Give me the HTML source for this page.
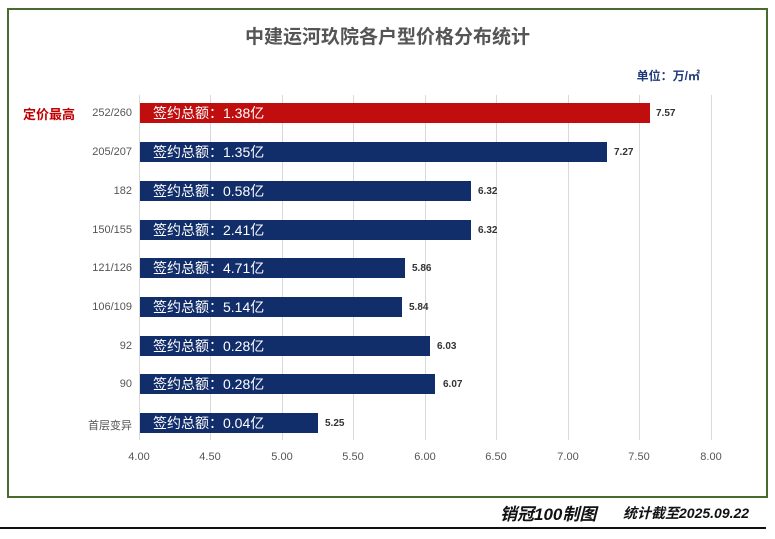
<!DOCTYPE html><html><head><meta charset="utf-8"><style>
body{margin:0;width:775px;height:539px;background:#fff;position:relative;overflow:hidden;font-family:"Liberation Sans","Noto Sans CJK SC",sans-serif}
.box{position:absolute;left:7px;top:8px;width:757px;height:486px;border:2px solid #4a6a30;box-sizing:content-box}
.t{position:absolute;white-space:nowrap}
.bar{position:absolute;left:140px;height:20px;color:#fff;font-size:14px;line-height:20px;padding-left:13px;box-sizing:border-box}
.g{position:absolute;top:95px;height:345px;width:1px;background:#d9d9d9}
.lab{position:absolute;right:643px;font-size:11px;color:#555;text-align:right}
.v{position:absolute;font-size:10px;font-weight:bold;color:#333}
.x{position:absolute;top:451px;font-size:11px;color:#555;width:40px;text-align:center}
</style></head><body>
<div class="box"></div>
<div class="t" style="left:0;width:775px;text-align:center;top:22px;font-size:19px;font-weight:bold;color:#555">中建运河玖院各户型价格分布统计</div>
<div class="t" style="right:75px;top:67px;font-size:12px;font-weight:bold;color:#1f3a7a">单位：万/㎡</div>
<div class="g" style="left:139px"></div><div class="g" style="left:210px"></div><div class="g" style="left:282px"></div><div class="g" style="left:353px"></div><div class="g" style="left:425px"></div><div class="g" style="left:496px"></div><div class="g" style="left:568px"></div><div class="g" style="left:639px"></div><div class="g" style="left:711px"></div>
<div class="x" style="left:119px">4.00</div><div class="x" style="left:190px">4.50</div><div class="x" style="left:262px">5.00</div><div class="x" style="left:333px">5.50</div><div class="x" style="left:405px">6.00</div><div class="x" style="left:476px">6.50</div><div class="x" style="left:548px">7.00</div><div class="x" style="left:619px">7.50</div><div class="x" style="left:691px">8.00</div>
<div class="t" style="left:23px;top:104px;font-size:13px;font-weight:bold;color:#c00000">定价最高</div>
<div class="lab" style="top:107px">252/260</div><div class="bar" style="top:103px;width:510px;background:#c00d0d">签约总额：1.38亿</div><div class="v" style="left:656px;top:108px">7.57</div>
<div class="lab" style="top:146px">205/207</div><div class="bar" style="top:142px;width:467px;background:#112d6a">签约总额：1.35亿</div><div class="v" style="left:614px;top:147px">7.27</div>
<div class="lab" style="top:185px">182</div><div class="bar" style="top:181px;width:331px;background:#112d6a">签约总额：0.58亿</div><div class="v" style="left:478px;top:186px">6.32</div>
<div class="lab" style="top:224px">150/155</div><div class="bar" style="top:220px;width:331px;background:#112d6a">签约总额：2.41亿</div><div class="v" style="left:478px;top:225px">6.32</div>
<div class="lab" style="top:262px">121/126</div><div class="bar" style="top:258px;width:265px;background:#112d6a">签约总额：4.71亿</div><div class="v" style="left:412px;top:263px">5.86</div>
<div class="lab" style="top:301px">106/109</div><div class="bar" style="top:297px;width:262px;background:#112d6a">签约总额：5.14亿</div><div class="v" style="left:409px;top:302px">5.84</div>
<div class="lab" style="top:340px">92</div><div class="bar" style="top:336px;width:290px;background:#112d6a">签约总额：0.28亿</div><div class="v" style="left:437px;top:341px">6.03</div>
<div class="lab" style="top:378px">90</div><div class="bar" style="top:374px;width:295px;background:#112d6a">签约总额：0.28亿</div><div class="v" style="left:443px;top:379px">6.07</div>
<div class="lab" style="top:417px">首层变异</div><div class="bar" style="top:413px;width:178px;background:#112d6a">签约总额：0.04亿</div><div class="v" style="left:325px;top:418px">5.25</div>
<div class="t" style="left:500px;top:500px;font-size:17px;font-weight:bold;font-style:italic;color:#111">销冠100制图</div>
<div class="t" style="left:623px;top:503px;font-size:14px;font-weight:bold;font-style:italic;color:#111">统计截至2025.09.22</div>
<div style="position:absolute;left:0;top:527px;width:766px;height:2px;background:#111"></div>
</body></html>
